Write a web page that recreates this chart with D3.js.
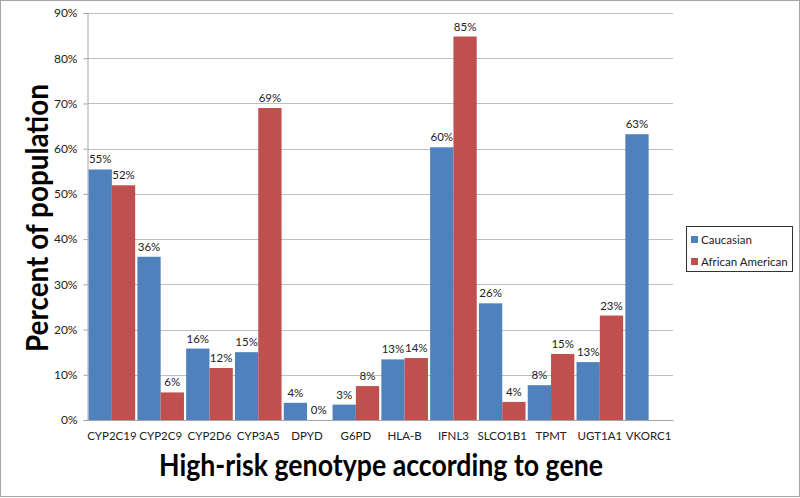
<!DOCTYPE html>
<html><head><meta charset="utf-8">
<script src="https://cdn.jsdelivr.net/npm/d3@7"></script>
<style>body{margin:0;background:#fff;} text{font-family:Lato,"Open Sans",sans-serif;}</style>
</head><body>
<svg id="chart" width="800" height="498"></svg>
<script>
const categories = ["CYP2C19","CYP2C9","CYP2D6","CYP3A5","DPYD","G6PD","HLA-B","IFNL3","SLCO1B1","TPMT","UGT1A1","VKORC1"];
const caucasian = [55.4, 36.1, 15.8, 15.0, 3.8, 3.4, 13.4, 60.3, 25.8, 7.7, 12.8, 63.2];
const africanAmerican = [51.9, 6.1, 11.5, 69.0, 0, 7.5, 13.7, 84.8, 4.0, 14.6, 23.1, null];
const seriesNames = ["Caucasian", "African American"];
const yTicks = [0,10,20,30,40,50,60,70,80,90];
const colors = ["#4F81BD", "#C0504D"];

const svg = d3.select("#chart");
const W = 800, H = 498;
const m = {left: 87.5, right: 127, top: 13, bottom: 78};
const pw = W - m.left - m.right, ph = H - m.top - m.bottom;

svg.append("rect").attr("x",0.5).attr("y",0.5).attr("width",W-1).attr("height",H-2)
  .attr("fill","#fff").attr("stroke","#a6a6a6");

const g = svg.append("g").attr("transform",`translate(${m.left},${m.top})`);
const x = d3.scaleBand().domain(categories).range([0,pw]).paddingInner(0.045).paddingOuter(0.022);
const xs = d3.scaleBand().domain(seriesNames).range([0,x.bandwidth()]);
const y = d3.scaleLinear().domain([0,90]).range([ph,0]);

// gridlines
g.selectAll("line.grid").data(yTicks.slice(1)).join("line")
  .attr("x1",0).attr("x2",pw).attr("y1",d=>Math.round(y(d))+0.5).attr("y2",d=>Math.round(y(d))+0.5)
  .attr("stroke","#bfbfbf").attr("stroke-width",1);

// y axis
const ya = g.append("g").call(d3.axisLeft(y).tickValues(yTicks).tickFormat(d=>d+"%").tickSize(4).tickPadding(6));
ya.select(".domain").attr("stroke","#a6a6a6");
ya.selectAll(".tick line").attr("stroke","#a6a6a6");
ya.selectAll("text").attr("font-size",12).attr("fill","#222");

// bars
const series = [caucasian, africanAmerican];
series.forEach((vals,si)=>{
  const data = categories.map((c,i)=>({c, v: vals[i]})).filter(d=>d.v!==null);
  g.selectAll(null).data(data).join("rect")
    .attr("x",d=>x(d.c)+xs(seriesNames[si]))
    .attr("y",d=>y(d.v)).attr("width",xs.bandwidth()).attr("height",d=>ph-y(d.v))
    .attr("fill",colors[si]);
  g.selectAll(null).data(data).join("text")
    .attr("x",d=>x(d.c)+xs(seriesNames[si])+xs.bandwidth()/2)
    .attr("y",d=>y(d.v)-6).attr("text-anchor","middle")
    .attr("font-size",11.5).attr("fill","#222")
    .text(d=>Math.round(d.v)+"%");
});

// x axis
const xa = g.append("g").attr("transform",`translate(0,${ph})`).call(d3.axisBottom(x).tickSize(0).tickPadding(12));
xa.select(".domain").attr("stroke","#a6a6a6");
xa.selectAll("text").attr("font-size",11.5).attr("fill","#222");

// axis titles
svg.append("text").attr("x",381).attr("y",476).attr("text-anchor","middle")
  .attr("font-size",31).attr("font-weight","bold").attr("fill","#000")
  .attr("textLength",444).attr("lengthAdjust","spacingAndGlyphs")
  .text("High-risk genotype according to gene");
svg.append("text").attr("transform","translate(48,218) rotate(-90)").attr("text-anchor","middle")
  .attr("font-size",31).attr("font-weight","bold").attr("fill","#000")
  .attr("textLength",268).attr("lengthAdjust","spacingAndGlyphs")
  .text("Percent of population");

// legend
const lg = svg.append("g").attr("transform","translate(686,226)");
lg.append("rect").attr("x",0.5).attr("y",0.5).attr("width",106).attr("height",45)
  .attr("fill","#fff").attr("stroke","#333");
seriesNames.forEach((n,i)=>{
  lg.append("rect").attr("x",5).attr("y",10+i*22).attr("width",7).attr("height",7).attr("fill",colors[i]);
  lg.append("text").attr("x",15).attr("y",17.5+i*22).attr("font-size",11.5).attr("fill","#222").text(n);
});
</script>
</body></html>
